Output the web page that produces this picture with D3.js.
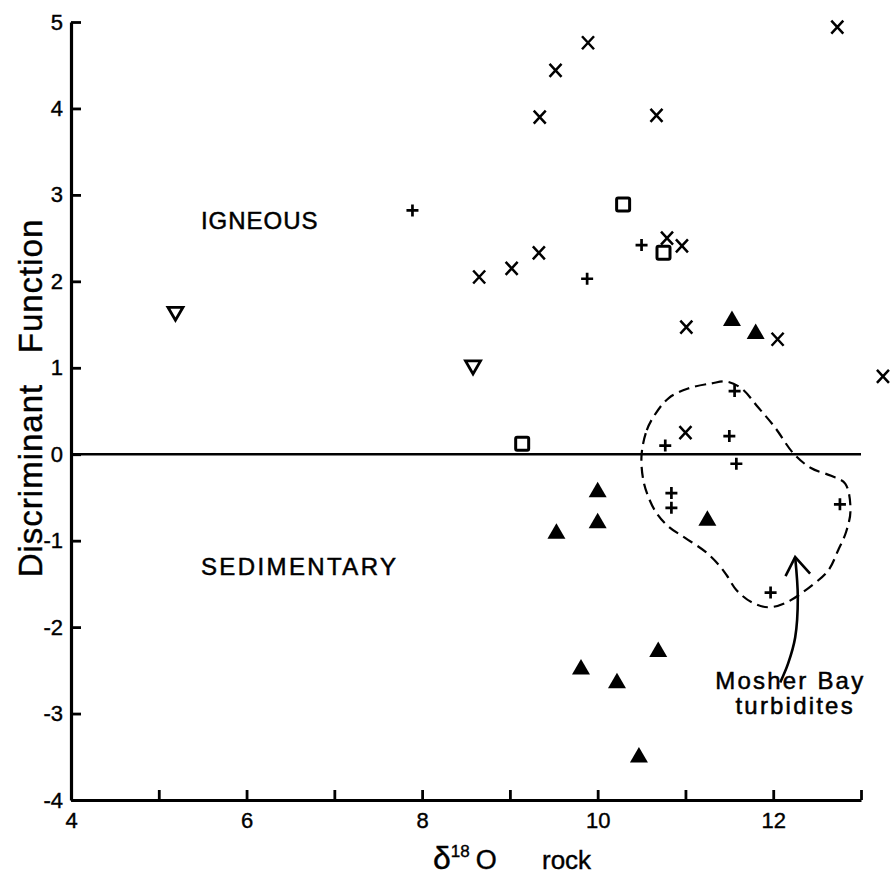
<!DOCTYPE html>
<html>
<head>
<meta charset="utf-8">
<script src="https://cdn.jsdelivr.net/npm/d3@7"></script>
<style>
  html, body { margin: 0; padding: 0; background: #fff; }
  svg { display: block; font-family: "Liberation Sans", Arial, sans-serif; }
</style>
</head>
<body>
<svg id="chart" width="893" height="877"></svg>
<script>
// ---- data ----
const xTicks = [4, 5, 6, 7, 8, 9, 10, 11, 12, 13];
const xTickLabels = ["4", "", "6", "", "8", "", "10", "", "12", ""];
const yTicks = [-4, -3, -2, -1, 0, 1, 2, 3, 4, 5];
const yTickLabels = ["-4", "-3", "-2", "-1", "0", "1", "2", "3", "4", "5"];

const crosses = [
  [9.52, 4.44], [9.89, 4.76], [9.34, 3.90], [10.67, 3.92], [12.73, 4.94],
  [8.65, 2.05], [9.02, 2.15], [9.33, 2.33], [10.79, 2.50], [10.96, 2.41],
  [11.01, 1.47], [12.05, 1.33], [13.25, 0.90], [11.00, 0.25]
];
const pluses = [
  [7.89, 2.82], [10.50, 2.42], [9.88, 2.03], [11.56, 0.73], [10.77, 0.10],
  [11.50, 0.21], [11.58, -0.11], [10.84, -0.45], [10.84, -0.62], [12.76, -0.58],
  [11.97, -1.60]
];
const squares = [[10.29, 2.89], [10.75, 2.33], [9.14, 0.12]];
const openTriangles = [[5.19, 1.63], [8.58, 1.01]];
const filledTriangles = [
  [11.53, 1.57], [11.80, 1.42], [10.00, -0.41], [10.00, -0.77], [9.53, -0.89],
  [11.25, -0.74], [9.81, -2.46], [10.22, -2.62], [10.69, -2.26], [10.47, -3.48]
];

// Mosher Bay turbidites envelope (dashed)
const envelope = [
  [10.50, -0.01], [10.56, 0.28], [10.66, 0.47], [10.81, 0.65], [11.03, 0.76],
  [11.30, 0.82], [11.47, 0.84], [11.64, 0.76], [11.83, 0.54], [12.02, 0.31],
  [12.23, 0.01], [12.43, -0.16], [12.66, -0.25], [12.82, -0.34], [12.88, -0.65],
  [12.83, -0.90], [12.74, -1.11], [12.63, -1.34], [12.45, -1.51], [12.14, -1.72],
  [11.94, -1.77], [11.75, -1.71], [11.58, -1.57], [11.47, -1.40], [11.38, -1.28],
  [11.23, -1.13], [11.00, -0.97], [10.81, -0.84], [10.67, -0.68], [10.58, -0.50],
  [10.52, -0.30]
];
const arrowShaft = [[12.08, -2.64], [12.17, -2.42], [12.25, -2.12], [12.28, -1.66], [12.25, -1.19]];
const arrowHead = [[12.14, -1.41], [12.25, -1.19], [12.42, -1.38]];

const regionLabels = [
  { text: "IGNEOUS", x: 5.48, y: 2.61, spacing: 1.0 },
  { text: "SEDIMENTARY", x: 5.48, y: -1.40, spacing: 2.4 }
];
const annotationLines = [
  { text: "Mosher Bay", x: 11.34, y: -2.72 },
  { text: "turbidites", x: 11.57, y: -3.01 }
];

// ---- layout ----
const svg = d3.select("#chart");
const x = d3.scaleLinear().domain([4, 13]).range([71, 861]);
const y = d3.scaleLinear().domain([-4, 5]).range([800, 22]);

// zero line
svg.append("line")
  .attr("x1", x(4)).attr("x2", x(13))
  .attr("y1", y(0)).attr("y2", y(0))
  .attr("stroke", "#000").attr("stroke-width", 2.4);

// axes
const xAxis = d3.axisBottom(x)
  .tickValues(xTicks)
  .tickSizeInner(-10).tickSizeOuter(0).tickPadding(12)
  .tickFormat((d, i) => xTickLabels[i]);
const yAxis = d3.axisLeft(y)
  .tickValues(yTicks)
  .tickSizeInner(-10).tickSizeOuter(0).tickPadding(8)
  .tickFormat((d, i) => yTickLabels[i]);

const gx = svg.append("g").attr("transform", `translate(0,${y(-4)})`).call(xAxis);
const gy = svg.append("g").attr("transform", `translate(${x(4)},0)`).call(yAxis);
[gx, gy].forEach(g => {
  g.select(".domain").attr("stroke", "#000").attr("stroke-width", 3.2);
  g.selectAll(".tick line").attr("stroke", "#000").attr("stroke-width", 2.8);
  g.selectAll(".tick text")
    .attr("fill", "#000")
    .attr("stroke", "#000").attr("stroke-width", 0.4)
    .style("font-family", "'Liberation Sans', Arial, sans-serif")
    .style("font-size", "22px");
});
gx.selectAll(".tick text").attr("dy", "0.71em");

// envelope
svg.append("path")
  .datum(envelope)
  .attr("d", d3.line().x(d => x(d[0])).y(d => y(d[1])).curve(d3.curveCatmullRomClosed))
  .attr("fill", "none").attr("stroke", "#000")
  .attr("stroke-width", 2.2).attr("stroke-dasharray", "11,6");

// arrow
svg.append("path")
  .datum(arrowShaft)
  .attr("d", d3.line().x(d => x(d[0])).y(d => y(d[1])).curve(d3.curveCatmullRom))
  .attr("fill", "none").attr("stroke", "#000").attr("stroke-width", 2.6);
svg.append("path")
  .datum(arrowHead)
  .attr("d", d3.line().x(d => x(d[0])).y(d => y(d[1])))
  .attr("fill", "none").attr("stroke", "#000").attr("stroke-width", 2.6)
  .attr("stroke-linejoin", "miter");

// markers
const pos = d => `translate(${x(d[0])},${y(d[1])})`;
svg.append("g").selectAll("path").data(crosses).join("path")
  .attr("transform", pos)
  .attr("d", "M-6,-6.5L6,6.5M-6,6.5L6,-6.5")
  .attr("stroke", "#000").attr("stroke-width", 2.5).attr("fill", "none");
svg.append("g").selectAll("path").data(pluses).join("path")
  .attr("transform", pos)
  .attr("d", "M-6,0L6,0M0,-6L0,6")
  .attr("stroke", "#000").attr("stroke-width", 2.7).attr("fill", "none");
svg.append("g").selectAll("rect").data(squares).join("rect")
  .attr("transform", pos)
  .attr("x", -6.5).attr("y", -6.5).attr("width", 13).attr("height", 13)
  .attr("rx", 1.5)
  .attr("stroke", "#000").attr("stroke-width", 3).attr("fill", "none");
svg.append("g").selectAll("path").data(openTriangles).join("path")
  .attr("transform", pos)
  .attr("d", "M-7.5,-6L7.5,-6L0,7Z")
  .attr("stroke", "#000").attr("stroke-width", 2.8).attr("fill", "none")
  .attr("stroke-linejoin", "miter");
svg.append("g").selectAll("path").data(filledTriangles).join("path")
  .attr("transform", pos)
  .attr("d", "M0,-8L9,7.5L-9,7.5Z")
  .attr("fill", "#000");

// region labels
svg.append("g").selectAll("text").data(regionLabels).join("text")
  .attr("x", d => x(d.x)).attr("y", d => y(d.y))
  .style("font-size", "24px").style("letter-spacing", d => d.spacing + "px")
  .attr("fill", "#000").attr("stroke", "#000").attr("stroke-width", 0.5)
  .text(d => d.text);

svg.append("g").selectAll("text").data(annotationLines).join("text")
  .attr("x", d => x(d.x)).attr("y", d => y(d.y))
  .style("font-size", "24px").style("letter-spacing", "2.2px")
  .attr("fill", "#000").attr("stroke", "#000").attr("stroke-width", 0.5)
  .text(d => d.text);

// axis titles
svg.append("text")
  .attr("transform", "translate(42,398) rotate(-90)")
  .attr("text-anchor", "middle")
  .style("font-size", "33px").style("letter-spacing", "1px")
  .style("white-space", "pre")
  .attr("fill", "#000").attr("stroke", "#000").attr("stroke-width", 0.4)
  .text("Discriminant   Function");

const xt = svg.append("text")
  .attr("x", 433).attr("y", 869)
  .attr("fill", "#000").attr("stroke", "#000").attr("stroke-width", 0.4);
xt.append("tspan").style("font-size", "32px").text("δ");
xt.append("tspan").style("font-size", "17px").attr("dy", -12).text("18");
xt.append("tspan").style("font-size", "27px").attr("dy", 12).attr("dx", 6).text("O");
xt.append("tspan").attr("x", 542).style("font-size", "26px").text("rock");
</script>
</body>
</html>
